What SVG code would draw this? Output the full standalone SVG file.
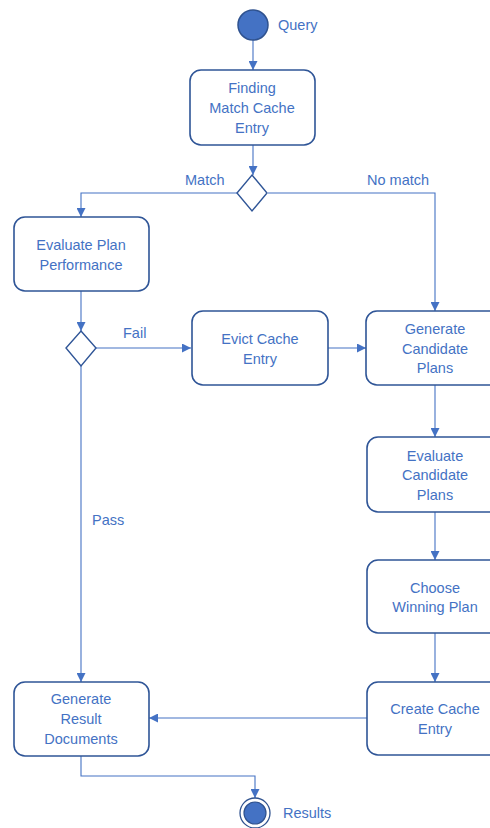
<svg xmlns="http://www.w3.org/2000/svg" width="490" height="828" viewBox="0 0 490 828">
<defs>
<style>
.box{fill:#fff;stroke:#2F5597;stroke-width:1.6}
.dia{fill:#fff;stroke:#2F5597;stroke-width:1.4}
.t{font-family:"Liberation Sans",Arial,sans-serif;font-size:14.5px;fill:#4472C4;text-anchor:middle;dominant-baseline:central}
.lbl{font-family:"Liberation Sans",Arial,sans-serif;font-size:14.5px;fill:#4472C4;dominant-baseline:central}
.c{fill:none;stroke:#4472C4;stroke-width:1.1}
</style>
<marker id="ah" viewBox="0 0 10 10" refX="10" refY="5" markerWidth="9" markerHeight="9" markerUnits="userSpaceOnUse" orient="auto">
<path d="M0,0 L10,5 L0,10 Z" fill="#4472C4"/>
</marker>
</defs>
<rect width="490" height="828" fill="#fff"/>
<g id="connectors">
<path class="c" d="M253,40 V70" marker-end="url(#ah)"/>
<path class="c" d="M253,145 V175" marker-end="url(#ah)"/>
<path class="c" d="M238,193 H81 V217" marker-end="url(#ah)"/>
<path class="c" d="M268,193 H435 V311" marker-end="url(#ah)"/>
<path class="c" d="M81,291 V331" marker-end="url(#ah)"/>
<path class="c" d="M96,348 H191" marker-end="url(#ah)"/>
<path class="c" d="M328,348 H366" marker-end="url(#ah)"/>
<path class="c" d="M81,366 V682" marker-end="url(#ah)"/>
<path class="c" d="M435,385 V437" marker-end="url(#ah)"/>
<path class="c" d="M435,512 V560" marker-end="url(#ah)"/>
<path class="c" d="M435,633 V682" marker-end="url(#ah)"/>
<path class="c" d="M367,718 H149" marker-end="url(#ah)"/>
<path class="c" d="M81,756 V776 H255 V798" marker-end="url(#ah)"/>
<text class="lbl" x="185" y="180">Match</text>
<text class="lbl" x="367" y="180">No match</text>
<text class="lbl" x="123" y="333">Fail</text>
<text class="lbl" x="92" y="520">Pass</text>
</g>
<g id="start">
<circle cx="253" cy="25" r="15" fill="#4472C4" stroke="#2F528F" stroke-width="1.5"/>
<text class="lbl" x="278" y="25">Query</text>
</g>
<g id="finding">
<rect class="box" x="190" y="70" width="125" height="75" rx="11"/>
<text class="t" x="252" y="88">Finding</text>
<text class="t" x="252" y="108">Match Cache</text>
<text class="t" x="252" y="128">Entry</text>
</g>
<g id="decision1">
<polygon class="dia" points="252,175 267,193 252,211 237,193"/>
</g>
<g id="evalPlan">
<rect class="box" x="14" y="217" width="135" height="74" rx="11"/>
<text class="t" x="81" y="245">Evaluate Plan</text>
<text class="t" x="81" y="265">Performance</text>
</g>
<g id="decision2">
<polygon class="dia" points="81,331 96,348 81,366 66,348"/>
</g>
<g id="evict">
<rect class="box" x="192" y="311" width="136" height="74" rx="11"/>
<text class="t" x="260" y="339">Evict Cache</text>
<text class="t" x="260" y="359">Entry</text>
</g>
<g id="genCand">
<rect class="box" x="366" y="311" width="138" height="74" rx="11"/>
<text class="t" x="435" y="329">Generate</text>
<text class="t" x="435" y="349">Candidate</text>
<text class="t" x="435" y="368">Plans</text>
</g>
<g id="evalCand">
<rect class="box" x="367" y="437" width="137" height="75" rx="11"/>
<text class="t" x="435" y="456">Evaluate</text>
<text class="t" x="435" y="475">Candidate</text>
<text class="t" x="435" y="495">Plans</text>
</g>
<g id="choose">
<rect class="box" x="367" y="560" width="137" height="73" rx="11"/>
<text class="t" x="435" y="588">Choose</text>
<text class="t" x="435" y="607">Winning Plan</text>
</g>
<g id="create">
<rect class="box" x="367" y="682" width="137" height="73" rx="11"/>
<text class="t" x="435" y="709">Create Cache</text>
<text class="t" x="435" y="729">Entry</text>
</g>
<g id="genResult">
<rect class="box" x="14" y="682" width="135" height="74" rx="11"/>
<text class="t" x="81" y="699">Generate</text>
<text class="t" x="81" y="719">Result</text>
<text class="t" x="81" y="739">Documents</text>
</g>
<g id="end">
<circle cx="255" cy="813" r="15" fill="#fff" stroke="#2F528F" stroke-width="1.3"/>
<circle cx="255" cy="813" r="11" fill="#4472C4" stroke="#2F528F" stroke-width="1.2"/>
<text class="lbl" x="283" y="813">Results</text>
</g>
</svg>
